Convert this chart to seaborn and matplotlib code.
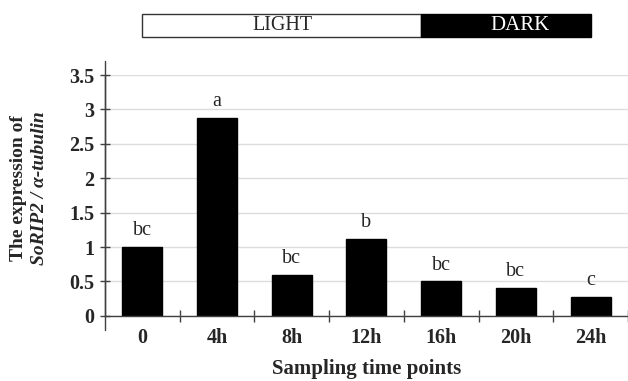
import matplotlib.pyplot as plt
import seaborn as sns
from matplotlib.patches import Rectangle

sns.set_theme(style="white")
plt.rcParams['font.family'] = ['Liberation Serif', 'DejaVu Serif']

times = ["0", "4h", "8h", "12h", "16h", "20h", "24h"]
expression = [1.0, 2.88, 0.6, 1.12, 0.5, 0.41, 0.27]
letters = ["bc", "a", "bc", "b", "bc", "bc", "c"]
yticks = [0, 0.5, 1, 1.5, 2, 2.5, 3, 3.5]
ytick_labels = ["0", "0.5", "1", "1.5", "2", "2.5", "3", "3.5"]

fig = plt.figure(figsize=(6.28, 3.81), dpi=100)
ax = fig.add_axes([0.167, 0.171, 0.833, 0.632])

sns.barplot(x=times, y=expression, color="black", width=0.535,
            edgecolor="black", saturation=1, ax=ax)

ax.set_xlim(-0.5, 6.5)
ax.set_ylim(0, 3.5)
ax.set_yticks(yticks)
ax.set_yticklabels(ytick_labels, fontweight="bold", fontsize=14.5)
ax.set_xticks(range(len(times)))
ax.set_xticklabels(times, fontweight="bold", fontsize=14.5)
ax.set_xticks([i + 0.5 for i in range(len(times))], minor=True)
ax.tick_params(axis="x", which="major", length=0, pad=9)
ax.tick_params(axis="x", which="minor", direction="inout", length=9,
               width=1, color="#404040", bottom=True)
ax.tick_params(axis="y", direction="inout", length=7, width=1,
               color="#404040", left=True, pad=4)
ax.set_axisbelow(True)
ax.yaxis.grid(True, color="#dddddd", linewidth=1)
ax.xaxis.grid(False)

for s in ["top", "right"]:
    ax.spines[s].set_visible(False)
for s in ["left", "bottom"]:
    ax.spines[s].set_color("#404040")
    ax.spines[s].set_linewidth(1)
# left spine runs a little past both ends
ax.plot([0, 0], [-0.06, 1.06], transform=ax.transAxes, clip_on=False,
        color="#404040", linewidth=1)

for i, (v, lab) in enumerate(zip(expression, letters)):
    ax.annotate(lab, (i, v), xytext=(0, 5), textcoords="offset points",
                ha="center", va="bottom", fontsize=14.5)

ax.set_xlabel("Sampling time points", fontweight="bold", fontsize=15,
              labelpad=8)
ax.set_ylabel("")

fig.text(0.029, 0.507, "The expression of", rotation=90, ha="center",
         va="center", fontweight="bold", fontsize=14)
fig.text(0.063, 0.507, "SoRIP2 / α-tubulin", rotation=90, ha="center",
         va="center", fontweight="bold", fontstyle="italic", fontsize=14)

# light / dark bar
fig.patches.append(Rectangle((0.226, 0.903), 0.444, 0.06, facecolor="white",
                             edgecolor="#333333", linewidth=1,
                             transform=fig.transFigure))
fig.patches.append(Rectangle((0.670, 0.903), 0.271, 0.06, facecolor="black",
                             edgecolor="black", linewidth=1,
                             transform=fig.transFigure))
fig.text(0.45, 0.933, "LIGHT", ha="center", va="center", fontsize=14.5)
fig.text(0.828, 0.933, "DARK", ha="center", va="center", fontsize=15,
         color="white")

fig.savefig("out.png", dpi=100)
